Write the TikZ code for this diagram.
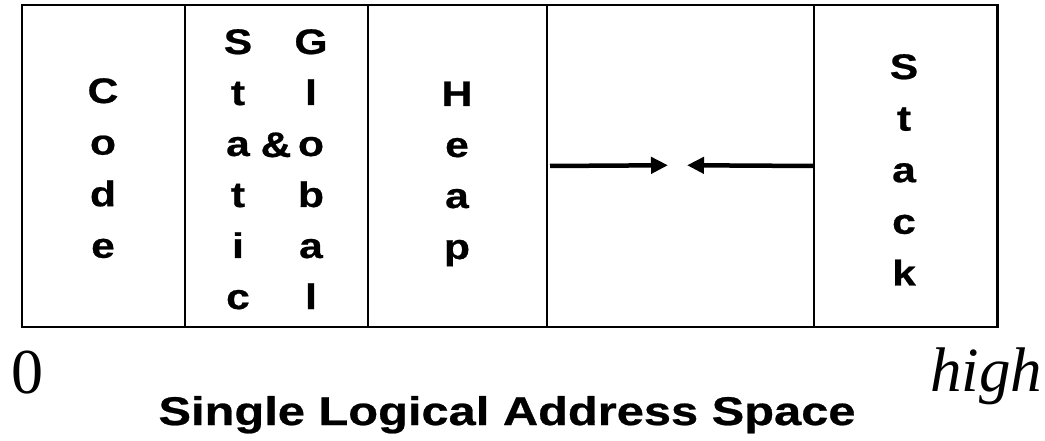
\documentclass[tikz,border=0pt]{standalone}
\usepackage{fontspec}
\usepackage{graphicx}
\usetikzlibrary{arrows.meta}
\newfontfamily\labelfont{Liberation Sans}[BoldFeatures={FakeBold=0.6}]
\newfontfamily\numfont{Liberation Serif}

% letters of the segment names are set wide
\newcommand{\wide}[1]{\scalebox{1.2}[1]{#1}}

\tikzset{
  seg/.style={draw, line width=1.5pt, inner sep=0pt, anchor=north west,
              minimum height=320.5pt},
  lbl/.style={inner sep=0pt, anchor=base,
              font=\labelfont\bfseries\fontsize{35.5}{35.5}\selectfont},
  growarrow/.style={line width=4.5pt, -{Triangle[length=17pt,width=16pt]}},
}

\begin{document}
\begin{tikzpicture}[x=1pt,y=-1pt]
\useasboundingbox (0,0) rectangle (1045,441);

% the segments of the address space, low to high
\node[seg, minimum width=162.5pt] (code)   at (21.5,5) {};
\node[seg, minimum width=183pt]   (static) at (184,5)  {};
\node[seg, minimum width=179pt]   (heap)   at (367,5)  {};
\node[seg, minimum width=267pt]   (free)   at (546,5)  {};
\node[seg, minimum width=183pt]   (stack)  at (813,5)  {};
\draw[line width=2pt] (code.north west) rectangle (stack.south east);

% vertical segment names
\foreach \ch [count=\i] in {C,o,d,e}
  \node[lbl] (code-\i) at (103, 103+51.6*\i-51.6) {\wide{\ch}};
\foreach \ch [count=\i] in {S,t,a,t,i,c}
  \node[lbl] (static-\i) at (238, 54+51*\i-51) {\wide{\ch}};
\node[lbl] (amp) at (276,157) {\wide{\&}};
\foreach \ch [count=\i] in {G,l,o,b,a,l}
  \node[lbl] (global-\i) at (311, 54+51*\i-51) {\wide{\ch}};
\foreach \ch [count=\i] in {H,e,a,p}
  \node[lbl] (heap-\i) at (457, 106+51*\i-51) {\wide{\ch}};
\foreach \ch [count=\i] in {S,t,a,c,k}
  \node[lbl] (stack-\i) at (904, 79+51.6*\i-51.6) {\wide{\ch}};

% heap and stack grow toward each other
\coordinate (heaptip)  at (668,165.25);
\coordinate (stacktip) at (687,165.25);
\draw[growarrow] ([xshift=4pt]free.west) -- (heaptip);
\draw[growarrow] (free.east) -- (stacktip);

% address range and caption
\node[inner sep=0pt, anchor=base west, font=\numfont\fontsize{64}{64}\selectfont]
  (low) at (11,393) {0};
\node[inner sep=0pt, anchor=base west, font=\numfont\itshape\fontsize{63}{63}\selectfont]
  (high) at (930,391) {high};
\node[inner sep=0pt, anchor=base, font=\labelfont\bfseries\fontsize{40}{40}\selectfont]
  (caption) at (507,425) {\scalebox{1.22}[1]{Single Logical Address Space}};
\end{tikzpicture}
\end{document}
